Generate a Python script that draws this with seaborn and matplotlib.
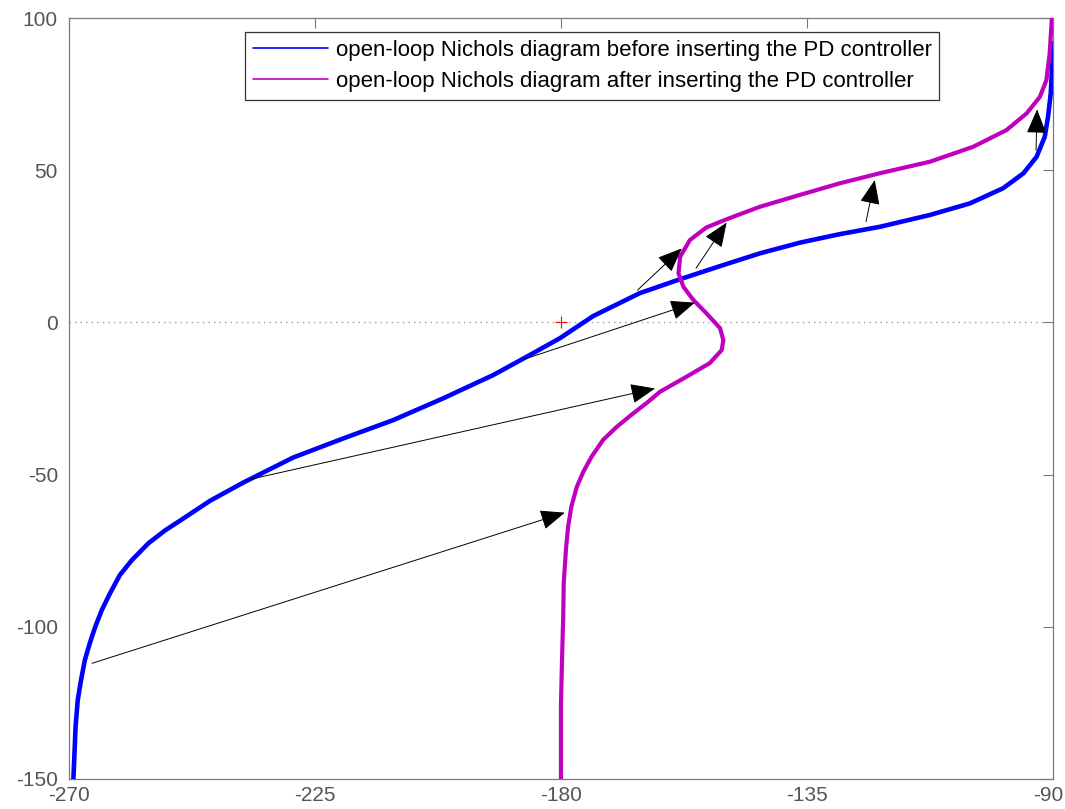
import matplotlib
matplotlib.use('Agg')
import matplotlib.pyplot as plt
import matplotlib.transforms as mtransforms
from matplotlib.lines import Line2D
import seaborn as sns
import pandas as pd

# open-loop Nichols curve before the PD controller (phase deg, gain dB)
before_phase = [-269.2, -269.0, -268.8, -268.4, -267.8, -267.1, -266.2, -265.2,
                -264.0, -262.5, -260.7, -258.5, -255.5, -252.4, -250.0, -244.2,
                -238.1, -229.0, -219.8, -210.7, -201.5, -192.4, -186.3, -180.2,
                -174.1, -165.6, -158.2, -150.9, -143.6, -136.3, -129.0, -121.7,
                -112.5, -105.2, -99.1, -95.4, -93.0, -91.5, -90.9, -90.4,
                -90.1, -90.0]
before_gain = [-150.0, -141.6, -132.8, -124.0, -117.5, -110.9, -105.4, -100.0,
               -94.5, -89.0, -83.0, -78.1, -72.6, -68.3, -65.5, -58.6,
               -52.6, -44.4, -38.1, -32.1, -24.9, -17.3, -11.3, -5.2,
               2.1, 9.6, 14.2, 18.5, 22.7, 26.2, 29.0, 31.4,
               35.3, 39.1, 44.1, 49.0, 54.4, 61.0, 67.6, 75.3,
               86.2, 91.7]

# open-loop Nichols curve after the PD controller
after_phase = [-180.0, -180.0, -179.8, -179.6, -179.5, -179.1, -178.7, -178.1,
               -177.1, -175.9, -174.4, -172.3, -169.8, -166.8, -164.0, -161.9,
               -157.0, -152.8, -150.6, -150.3, -150.9, -153.4, -155.8, -157.6,
               -158.5, -158.2, -156.4, -153.4, -149.7, -143.6, -136.3, -129.0,
               -121.7, -112.5, -104.6, -98.5, -94.8, -92.4, -91.2, -90.6,
               -90.2]
after_gain = [-150.0, -125.0, -110.0, -97.2, -85.7, -74.8, -67.1, -60.5,
              -54.0, -49.0, -44.1, -38.6, -34.3, -29.9, -26.0, -22.8,
              -17.8, -13.4, -9.1, -5.8, -1.9, 3.0, 7.4, 11.7,
              16.1, 21.6, 27.1, 31.2, 33.9, 38.0, 41.9, 45.7,
              49.0, 52.8, 57.7, 63.2, 68.7, 74.1, 79.6, 88.4,
              100.0]

# arrows linking matching frequencies (start on blue, tip on magenta)
arrow_start_phase = [-265.8, -237.5, -186.6, -166.0, -155.3, -124.2, -93.1]
arrow_start_gain = [-112.0, -51.8, -12.0, 10.6, 17.8, 33.1, 56.6]
arrow_end_phase = [-179.3, -162.8, -155.5, -157.9, -149.7, -122.6, -92.9]
arrow_end_gain = [-62.5, -21.7, 6.5, 24.3, 32.8, 46.8, 70.0]

critical_point = (-180, 0)

x_ticks = [-270, -225, -180, -135, -90]
y_ticks = [-150, -100, -50, 0, 50, 100]
labels = ['open-loop Nichols diagram before inserting the PD controller',
          'open-loop Nichols diagram after inserting the PD controller']
blue = '#0000ff'
magenta = '#bf00bf'
grey = '#7a7a7a'

sns.set_style('white')
plt.rcParams['font.family'] = ['Liberation Sans', 'DejaVu Sans']
plt.rcParams['axes.unicode_minus'] = False

fig = plt.figure(figsize=(10.65, 8.09), dpi=100)
ax = fig.add_axes([0.0648, 0.0371, 0.9239, 0.9406])

df_before = pd.DataFrame({'phase': before_phase, 'gain': before_gain})
df_after = pd.DataFrame({'phase': after_phase, 'gain': after_gain})

ax.axhline(0, color='#999999', lw=1.0, ls=(0, (1, 3)), zorder=1)
sns.lineplot(data=df_before, x='phase', y='gain', sort=False, estimator=None,
             color=blue, lw=3.3, ax=ax, zorder=3)
sns.lineplot(data=df_after, x='phase', y='gain', sort=False, estimator=None,
             color=magenta, lw=3.0, ax=ax, zorder=3)
ax.plot(*critical_point, marker='+', color='red', ms=9, mew=0.8, zorder=4)

for xs, ys, xe, ye in zip(arrow_start_phase, arrow_start_gain,
                          arrow_end_phase, arrow_end_gain):
    ax.annotate('', xy=(xe, ye), xytext=(xs, ys),
                arrowprops=dict(arrowstyle='-|>,head_length=1.1,head_width=0.45',
                                color='black', lw=0.7, shrinkA=0, shrinkB=0,
                                mutation_scale=14),
                zorder=5)

ax.set_xlim(-270, -90)
ax.set_ylim(-150, 100)
ax.set_xticks(x_ticks)
ax.set_yticks(y_ticks)
ax.set_xlabel('')
ax.set_ylabel('')
for side in ax.spines.values():
    side.set_visible(True)
    side.set_color(grey)
    side.set_linewidth(0.9)
ax.tick_params(direction='in', top=True, right=True, length=7, width=0.8,
               color=grey, labelcolor='#555555', labelsize=15)
ax.tick_params(axis='x', pad=5)
ax.tick_params(axis='y', pad=8)

# last x label sits a little left of its tick, as in the original
last = ax.get_xticklabels()[-1]
last.set_transform(last.get_transform() +
                   mtransforms.ScaledTranslation(-5 / 100, 0, fig.dpi_scale_trans))

handles = [Line2D([], [], color=blue, lw=1.2),
           Line2D([], [], color=magenta, lw=1.2)]
leg = ax.legend(handles, labels, loc='upper left', bbox_to_anchor=(0.179, 0.9816),
                borderaxespad=0, fontsize=16, frameon=True, fancybox=False,
                handlelength=3.4, handletextpad=0.32, borderpad=0.35,
                labelspacing=0.45, labelcolor='black')
leg.get_frame().set_edgecolor('black')
leg.get_frame().set_linewidth(0.9)

fig.savefig('out.png', dpi=100)
